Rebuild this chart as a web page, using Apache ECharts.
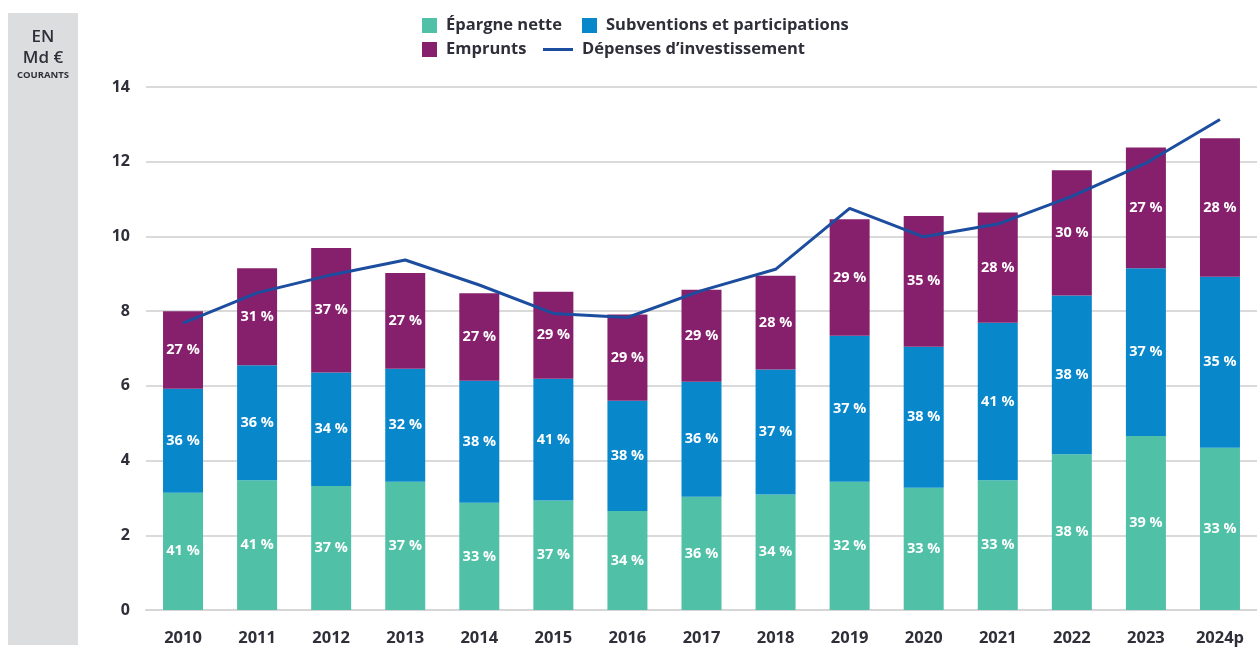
<!DOCTYPE html>
<html>
<head>
<meta charset="utf-8">
<script src="https://cdn.jsdelivr.net/npm/echarts@6/dist/echarts.min.js"></script>
<style>
  html, body { margin: 0; padding: 0; background: #fff; }
  #chart { width: 1257px; height: 649px; }
</style>
</head>
<body>
<div id="chart"></div>
<script>
const years = ['2010', '2011', '2012', '2013', '2014', '2015', '2016', '2017', '2018', '2019', '2020', '2021', '2022', '2023', '2024p']

// Md € courants
const epargne = [3.14, 3.47, 3.32, 3.43, 2.87, 2.93, 2.65, 3.03, 3.09, 3.43, 3.27, 3.47, 4.17, 4.66, 4.34]
const subventions = [2.78, 3.08, 3.04, 3.03, 3.27, 3.26, 2.95, 3.08, 3.35, 3.91, 3.78, 4.22, 4.25, 4.49, 4.58]
const emprunts = [2.08, 2.60, 3.33, 2.56, 2.34, 2.33, 2.31, 2.46, 2.51, 3.12, 3.50, 2.95, 3.35, 3.23, 3.71]
const depenses = [7.68, 8.49, 8.97, 9.37, 8.70, 7.94, 7.83, 8.55, 9.12, 10.75, 9.99, 10.33, 11.07, 11.96, 13.13]

// parts affichées (%)
const pctEpargne = [41, 41, 37, 37, 33, 37, 34, 36, 34, 32, 33, 33, 38, 39, 33]
const pctSubventions = [36, 36, 34, 32, 38, 41, 38, 36, 37, 37, 38, 41, 38, 37, 35]
const pctEmprunts = [27, 31, 37, 27, 27, 29, 29, 29, 28, 29, 35, 28, 30, 27, 28]

const chart = echarts.init(document.getElementById('chart'))

const font = '"Open Sans", "Noto Sans", sans-serif'
const textColor = '#2f2f3a'

function barSeries(name, data, pct, color) {
  return {
    name: name,
    type: 'bar',
    stack: 'total',
    data: data,
    barWidth: 40,
    itemStyle: { color: color },
    label: {
      show: true,
      position: 'inside',
      color: '#fff',
      fontFamily: font,
      fontWeight: 700,
      fontSize: 14.5,
      formatter: p => pct[p.dataIndex] + ' %'
    }
  }
}

const legendText = {
  color: textColor,
  fontFamily: font,
  fontWeight: 700,
  fontSize: 16.5,
  padding: [0, 0, 0, 4]
}

const option = {
  backgroundColor: '#fff',
  animation: false,
  graphic: [
    {
      type: 'rect',
      shape: { x: 8, y: 13, width: 70, height: 632 },
      style: { fill: '#dcdddf' },
      silent: true
    },
    {
      type: 'text',
      x: 43, y: 37,
      style: { text: 'EN', font: '600 17px ' + font, fill: textColor, textAlign: 'center', textVerticalAlign: 'middle' }
    },
    {
      type: 'text',
      x: 43, y: 58,
      style: { text: 'Md €', font: '600 17px ' + font, fill: textColor, textAlign: 'center', textVerticalAlign: 'middle' }
    },
    {
      type: 'text',
      x: 43, y: 75,
      style: { text: 'COURANTS', font: '700 9.5px ' + font, fill: textColor, textAlign: 'center', textVerticalAlign: 'middle' }
    }
  ],
  legend: [
    {
      data: ['Épargne nette', 'Subventions et participations'],
      left: 417,
      top: 12,
      itemWidth: 15,
      itemHeight: 15,
      itemGap: 20,
      icon: 'rect',
      textStyle: legendText
    },
    {
      data: ['Emprunts'],
      left: 417,
      top: 36,
      itemWidth: 15,
      itemHeight: 15,
      icon: 'rect',
      textStyle: legendText
    },
    {
      data: [{ name: 'Dépenses d’investissement', icon: 'rect' }],
      left: 538,
      top: 36,
      itemWidth: 30,
      itemHeight: 3,
      textStyle: legendText
    }
  ],
  grid: {
    left: 146,
    right: -7,
    top: 87,
    bottom: 39
  },
  xAxis: {
    type: 'category',
    data: years,
    axisTick: { show: false },
    axisLine: { lineStyle: { color: '#d6d6d6', width: 2 } },
    axisLabel: {
      color: textColor,
      fontFamily: font,
      fontWeight: 700,
      fontSize: 16.5,
      margin: 20
    }
  },
  yAxis: {
    type: 'value',
    min: 0,
    max: 14,
    interval: 2,
    axisLine: { show: false },
    axisTick: { show: false },
    axisLabel: {
      color: textColor,
      fontFamily: font,
      fontWeight: 700,
      fontSize: 16,
      margin: 16
    },
    splitLine: { lineStyle: { color: '#dadada', width: 2 } }
  },
  series: [
    barSeries('Épargne nette', epargne, pctEpargne, '#50c0a7'),
    barSeries('Subventions et participations', subventions, pctSubventions, '#0888cb'),
    barSeries('Emprunts', emprunts, pctEmprunts, '#86206d'),
    {
      name: 'Dépenses d’investissement',
      type: 'line',
      data: depenses,
      symbol: 'none',
      z: 5,
      itemStyle: { color: '#1c4d9e' },
      lineStyle: { color: '#1c4d9e', width: 3 }
    }
  ]
}

chart.setOption(option)
</script>
</body>
</html>
